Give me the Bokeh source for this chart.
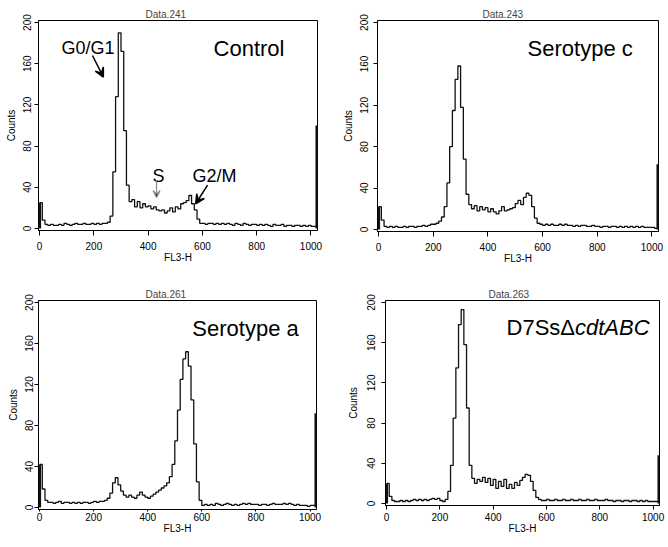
from bokeh.plotting import figure
from bokeh.layouts import column, row
from bokeh.models import Range1d, Label, Arrow, VeeHead
from bokeh.embed import file_html
from bokeh.resources import INLINE

FONT = "Liberation Sans"

# FL3-H channel (bin start, every 10 channels)
channels = list(range(0, 1030, 10))

control = [25, 8, 4, 3, 4, 3, 3, 4, 3, 5, 4, 3, 4, 5, 4, 4, 5, 4, 4, 5,
           4, 5, 4, 5, 5, 6, 12, 55, 128, 190, 172, 95, 42, 26, 28, 21, 26, 20, 24, 21,
           22, 19, 21, 18, 17, 18, 15, 17, 20, 16, 21, 19, 24, 25, 27, 32, 24, 18, 9, 5,
           5, 4, 5, 5, 4, 5, 4, 5, 4, 5, 4, 3, 5, 4, 3, 5, 4, 3, 4, 4,
           3, 4, 3, 4, 3, 2, 4, 3, 3, 4, 2, 3, 3, 2, 3, 3, 2, 3, 2, 3,
           2, 2, 2]
serotype_c = [22, 9, 3, 2, 3, 2, 3, 2, 2, 3, 2, 3, 3, 2, 3, 3, 4, 3, 4, 5,
              5, 6, 8, 12, 22, 45, 80, 115, 145, 158, 118, 68, 34, 24, 20, 23, 18, 22, 19, 21,
              17, 20, 17, 15, 18, 22, 18, 19, 20, 21, 25, 28, 24, 31, 35, 33, 22, 11, 6, 5,
              4, 5, 4, 5, 4, 4, 5, 4, 5, 4, 4, 3, 4, 3, 4, 4, 3, 3, 4, 3,
              3, 2, 3, 3, 2, 3, 3, 2, 3, 2, 3, 2, 3, 2, 3, 2, 3, 2, 2, 2,
              2, 1, 1]
serotype_a = [42, 18, 7, 5, 5, 4, 5, 6, 4, 5, 5, 4, 5, 4, 5, 4, 5, 5, 4, 5,
              6, 5, 6, 6, 7, 9, 14, 24, 29, 22, 16, 12, 10, 12, 10, 9, 12, 15, 12, 10,
              9, 11, 13, 15, 17, 19, 21, 24, 30, 42, 65, 95, 125, 145, 152, 138, 105, 62, 25, 7,
              2, 3, 2, 3, 2, 4, 3, 2, 3, 4, 3, 2, 3, 2, 3, 4, 3, 4, 3, 3,
              3, 2, 3, 3, 2, 3, 4, 3, 3, 3, 4, 3, 4, 3, 2, 3, 2, 2, 2, 1,
              2, 2, 2]
d7ss_cdtabc = [20, 7, 3, 2, 2, 3, 2, 3, 2, 3, 4, 3, 4, 3, 4, 3, 4, 5, 4, 5,
               3, 2, 4, 12, 38, 85, 135, 178, 193, 158, 95, 38, 25, 20, 24, 22, 26, 21, 25, 18,
               24, 15, 22, 17, 24, 15, 19, 15, 21, 18, 23, 26, 29, 28, 22, 13, 6, 4, 3, 3,
               4, 3, 3, 4, 3, 3, 4, 3, 3, 4, 3, 3, 4, 3, 3, 4, 3, 3, 4, 3,
               3, 3, 4, 3, 3, 2, 3, 3, 2, 3, 3, 2, 3, 3, 2, 3, 2, 3, 2, 2,
               2, 2, 2]

# events piled in the first / last channel
first_channel = [25, 22, 42, 20]
last_channel = [100, 63, 92, 48]

titles = ["Data.241", "Data.243", "Data.261", "Data.263"]
names = ["Control", "Serotype c", "Serotype a", "D7Ss\u0394"]
x_ticks = [0, 200, 400, 600, 800, 1000]
y_ticks = [0, 40, 80, 120, 160, 200]


def panel(counts, idx, fw, fh, bl, br, bt, bb, title_off,
          ytl_standoff, yal_standoff, xtick_out, xtl_standoff, xal_standoff):
    p = figure(frame_width=fw, frame_height=fh,
               min_border_left=bl, min_border_right=br,
               min_border_top=bt, min_border_bottom=bb,
               x_range=Range1d(-4, 1024), y_range=Range1d(-2, 202),
               output_backend="svg", toolbar_location=None,
               title=titles[idx])
    p.title.text_font = FONT
    p.title.text_font_size = "10px"
    p.title.text_font_style = "normal"
    p.title.align = "left"
    p.title.offset = title_off
    p.title.standoff = 1
    p.background_fill_color = "white"
    p.border_fill_color = "white"
    p.outline_line_color = "black"
    p.outline_line_width = 1
    p.grid.visible = False

    p.step(channels, counts, mode="after", line_color="#111111", line_width=1.3)
    p.segment(x0=[1], y0=[0], x1=[1], y1=[first_channel[idx]],
              line_color="#111111", line_width=2.5)
    p.segment(x0=[1022], y0=[0], x1=[1022], y1=[last_channel[idx]],
              line_color="#111111", line_width=3)

    p.xaxis.ticker = x_ticks
    p.yaxis.ticker = y_ticks
    p.xaxis.ticker.num_minor_ticks = 5
    p.yaxis.ticker.num_minor_ticks = 5
    p.xaxis.axis_label = "FL3-H"
    p.yaxis.axis_label = "Counts"
    for ax in (p.xaxis[0], p.yaxis[0]):
        ax.axis_line_color = "black"
        ax.major_tick_line_color = "black"
        ax.minor_tick_line_color = "black"
        ax.major_tick_in = 0
        ax.minor_tick_in = 0
        ax.minor_tick_out = 2
        ax.major_label_text_font = FONT
        ax.major_label_text_font_size = "10px"
        ax.major_label_text_color = "black"
        ax.axis_label_text_font = FONT
        ax.axis_label_text_font_size = "10px"
        ax.axis_label_text_font_style = "normal"
        ax.axis_label_text_color = "black"
    p.yaxis.major_tick_out = 4
    p.xaxis.major_tick_out = xtick_out
    p.yaxis.major_label_orientation = "vertical"
    p.yaxis.major_label_standoff = ytl_standoff
    p.yaxis.axis_label_standoff = yal_standoff
    p.xaxis.major_label_standoff = xtl_standoff
    p.xaxis.axis_label_standoff = xal_standoff
    return p


p1 = panel(control, 0, 279, 210, 38, 17, 20, 40, 107, 3, 4, 5, 6, -1)
p2 = panel(serotype_c, 1, 281, 211, 43, 9, 18, 41, 105, 5, 4, 5, 6, -1)
p3 = panel(serotype_a, 2, 278, 209, 38, 18, 30, 36, 107, 1, 4, 2, 1, -1)
p4 = panel(d7ss_cdtabc, 3, 274, 205, 51, 8, 30, 40, 103, 6, 6, 4, 3, -1)


def big(p, x, txt, style="normal", x_offset=0):
    p.add_layout(Label(x=x, y=175, text=txt, text_font=FONT, text_font_size="22px",
                       text_font_style=style, text_color="black",
                       text_baseline="alphabetic", x_offset=x_offset))


big(p1, 641, names[0])
big(p2, 545, names[1])
big(p3, 565, names[2])
big(p4, 450, names[3])
big(p4, 450, "cdtABC", style="italic", x_offset=68.5)


def small(p, x, y, txt, align="left"):
    p.add_layout(Label(x=x, y=y, text=txt, text_font=FONT, text_font_size="18px",
                       text_color="black", text_align=align, text_baseline="alphabetic"))


small(p1, 81, 175, "G0/G1")
small(p1, 438, 51, "S", align="center")
small(p1, 563, 51, "G2/M")
p1.add_layout(Arrow(end=VeeHead(size=9, line_width=1.5, line_color="black"),
                    x_start=195, y_start=168, x_end=235, y_end=147,
                    line_color="black", line_width=1.5))
p1.add_layout(Arrow(end=VeeHead(size=7, line_width=1.2, line_color="#8a8a8a"),
                    x_start=431, y_start=47, x_end=431, y_end=30,
                    line_color="#8a8a8a", line_width=1.2))
p1.add_layout(Arrow(end=VeeHead(size=9, line_width=1.5, line_color="black"),
                    x_start=619, y_start=42, x_end=575, y_end=24,
                    line_color="black", line_width=1.5))

layout = column(row(p1, p2), row(p3, p4))

with open("out.html", "w") as f:
    f.write(file_html(layout, INLINE))
